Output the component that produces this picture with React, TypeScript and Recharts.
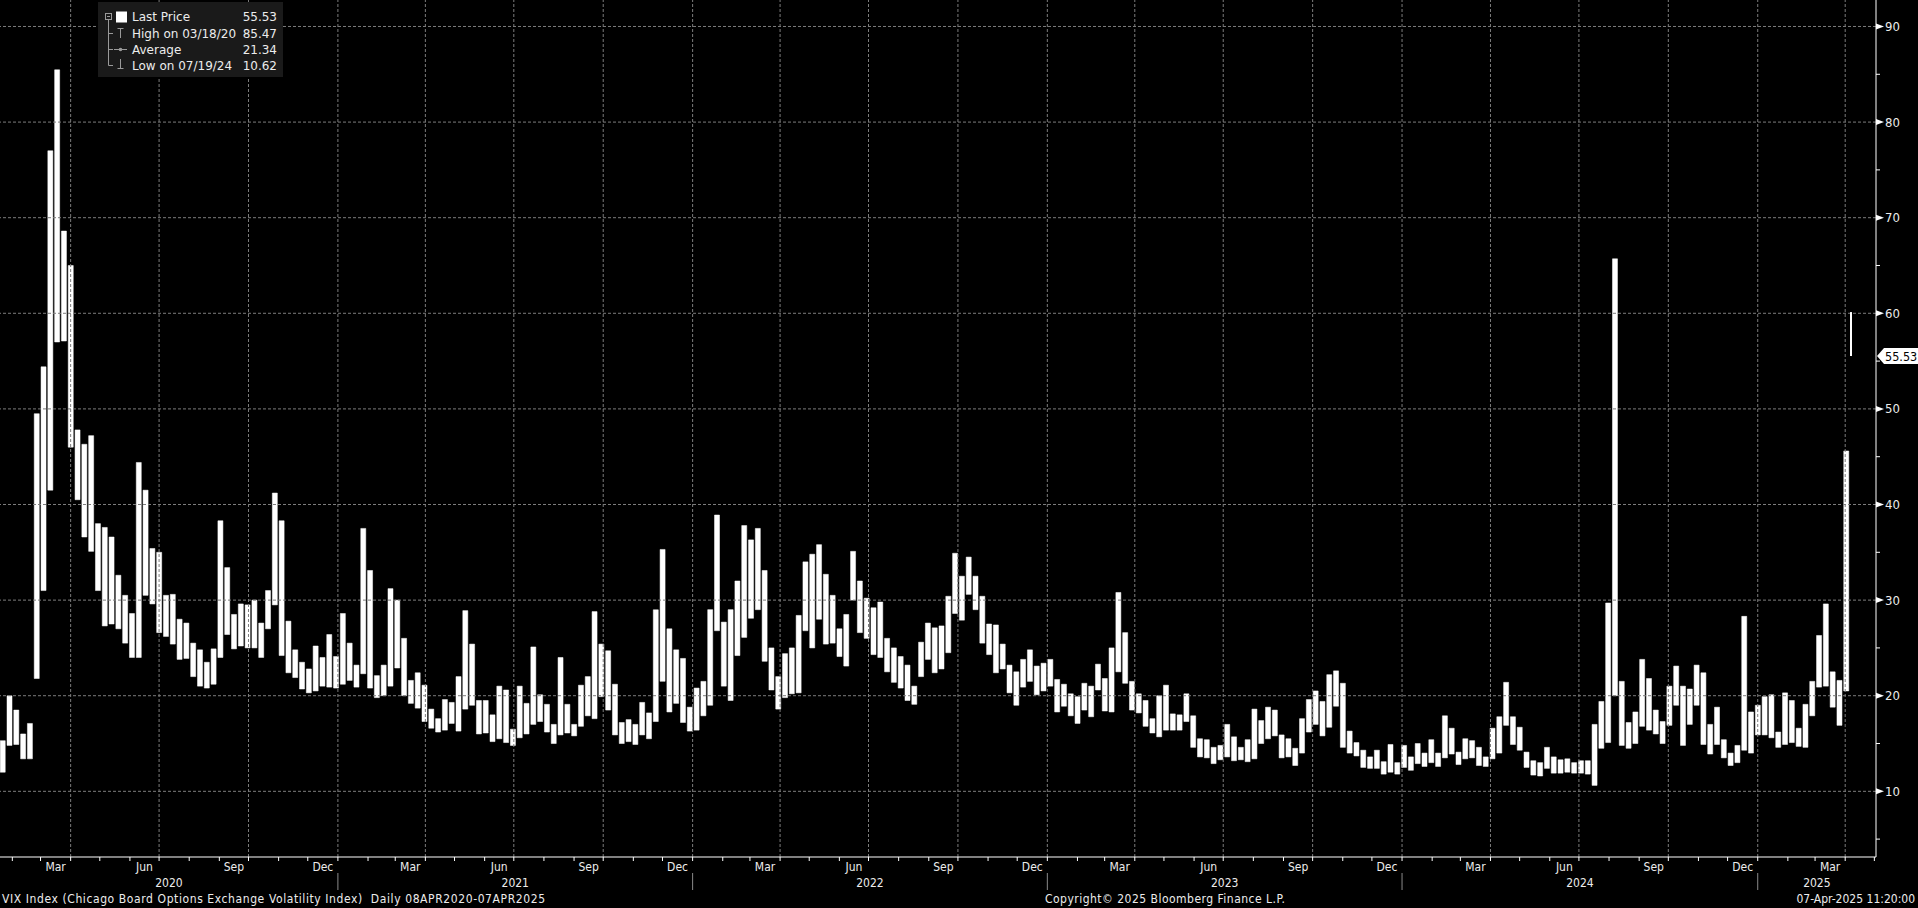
import React from 'react'
import { BarChart, Bar, XAxis, YAxis, ReferenceLine } from 'recharts'

// weekly low / high of the VIX (one pair per week, Monday first)
const FIRST_WEEK = '2020-01-20'

const vix2020: [number, number][] = [
  [12.0, 15.3], [14.8, 19.99], [14.9, 18.5], [13.4, 16.0], [13.4, 17.1], [21.8, 49.5],
  [31.0, 54.4], [41.5, 77.0], [57.0, 85.47], [57.1, 68.6], [46.0, 65.0], [40.5, 47.8],
  [36.6, 46.3], [35.1, 47.2], [31.0, 38.0], [27.3, 37.6], [27.5, 36.6], [27.0, 32.6],
  [25.5, 30.5], [24.0, 28.6], [24.0, 44.4], [30.5, 41.5], [29.6, 35.4], [26.6, 35.0],
  [26.2, 30.5], [25.4, 30.6], [23.8, 28.0], [23.9, 27.6], [22.0, 25.5], [21.0, 24.8],
  [20.8, 23.5], [21.2, 24.9], [24.0, 38.3], [26.4, 33.4], [24.9, 28.5], [25.2, 29.6],
  [25.0, 29.5], [25.0, 30.0], [24.0, 27.6], [27.0, 31.0], [29.5, 41.2], [24.2, 38.3],
  [22.4, 27.8], [21.9, 24.8], [20.7, 23.5], [20.3, 22.8], [20.5, 25.2], [21.0, 24.0],
  [20.9, 26.4], [20.8, 24.1],
]

const vix2021: [number, number][] = [
  [21.2, 28.6], [21.6, 25.5], [20.9, 23.2], [22.3, 37.5], [20.8, 33.1], [19.8, 22.1],
  [20.0, 23.2], [21.0, 31.2], [22.9, 30.0], [20.0, 26.0], [19.2, 21.6], [18.7, 22.4],
  [17.3, 21.1], [16.6, 18.6], [16.2, 17.6], [16.4, 19.6], [17.1, 19.3], [16.3, 22.0],
  [18.6, 28.9], [19.0, 25.4], [16.0, 19.5], [16.1, 19.5], [15.2, 18.0], [15.5, 21.0],
  [15.1, 20.6], [14.8, 16.5], [15.6, 21.0], [16.0, 19.2], [17.0, 25.1], [17.3, 20.1],
  [16.2, 19.1], [15.0, 17.0], [15.9, 24.0], [16.1, 19.1], [15.8, 17.0], [16.8, 21.1],
  [17.9, 22.0], [17.6, 28.8], [19.9, 25.4], [18.5, 24.7], [15.9, 21.2], [15.0, 17.2],
  [15.2, 17.5], [14.9, 17.0], [15.9, 19.3], [15.5, 18.2], [17.3, 28.99], [21.5, 35.3],
  [18.3, 27.0], [19.2, 24.8], [17.2, 23.9], [16.3, 18.8],
]

const vix2022: [number, number][] = [
  [16.4, 20.8], [17.9, 21.5], [19.0, 29.0], [26.8, 38.9], [21.0, 27.7], [19.5, 29.0],
  [24.2, 32.0], [26.1, 37.8], [28.1, 36.3], [29.0, 37.5], [23.6, 33.1], [20.6, 25.0],
  [18.6, 22.0], [19.8, 24.4], [20.2, 25.0], [20.3, 28.4], [26.8, 34.0], [25.0, 34.8],
  [28.0, 35.8], [25.4, 32.7], [25.5, 30.5], [24.1, 27.0], [23.1, 28.5], [30.0, 35.1],
  [26.6, 32.0], [26.0, 30.2], [24.3, 29.2], [24.0, 29.8], [22.5, 26.0], [21.4, 25.0],
  [20.8, 24.1], [19.5, 23.2], [19.1, 21.0], [22.0, 25.6], [23.8, 27.6], [22.4, 27.1],
  [22.8, 27.3], [24.5, 30.4], [28.6, 34.9], [27.9, 32.5], [30.6, 34.5], [29.0, 32.5],
  [25.5, 30.4], [24.3, 27.5], [22.4, 27.4], [22.8, 25.4], [20.3, 23.2], [19.0, 22.5],
  [20.9, 23.8], [21.5, 24.8], [20.1, 23.1], [20.5, 23.4],
]

const vix2023: [number, number][] = [
  [21.0, 23.8], [18.3, 21.7], [18.9, 21.2], [17.9, 20.2], [17.1, 19.9], [18.5, 21.3],
  [17.8, 21.0], [20.6, 23.3], [18.4, 21.8], [18.3, 25.0], [22.5, 30.8], [21.3, 26.6],
  [18.5, 21.5], [18.2, 20.2], [16.8, 19.5], [16.1, 17.6], [15.7, 20.0], [16.4, 21.1],
  [16.4, 18.1], [16.4, 18.0], [17.3, 20.2], [14.6, 17.9], [13.6, 15.5], [13.5, 15.4],
  [12.9, 14.6], [13.3, 14.8], [13.6, 17.0], [13.2, 15.7], [13.3, 14.6], [13.1, 15.4],
  [13.4, 18.6], [15.0, 17.4], [15.5, 18.8], [15.8, 18.5], [13.5, 15.9], [13.6, 15.5],
  [12.7, 14.5], [14.0, 17.6], [16.2, 19.6], [17.0, 20.5], [15.8, 19.4], [16.7, 22.2],
  [18.9, 22.6], [14.6, 21.3], [14.0, 16.3], [13.7, 15.1], [12.5, 14.3], [12.4, 13.6],
  [12.4, 14.3], [11.8, 13.1], [12.0, 14.9], [11.8, 13.0],
]

const vix2024: [number, number][] = [
  [12.5, 14.8], [12.2, 13.6], [12.9, 15.0], [12.6, 14.0], [13.0, 15.4], [12.6, 14.0],
  [13.5, 17.9], [13.9, 16.6], [12.8, 14.1], [13.4, 15.5], [13.5, 15.3], [12.7, 14.6],
  [12.6, 13.6], [13.4, 16.6], [14.0, 17.8], [16.9, 21.4], [14.9, 17.8], [14.3, 16.7],
  [12.5, 14.1], [11.7, 13.2], [11.6, 13.0], [12.4, 14.6], [11.9, 13.6], [11.9, 13.3],
  [12.0, 13.4], [11.9, 13.0], [11.9, 13.2], [11.8, 13.2], [10.62, 17.0], [14.5, 19.4],
  [15.1, 29.7], [20.0, 65.7], [14.8, 21.5], [14.5, 17.2], [15.0, 18.3], [16.8, 23.8],
  [16.4, 21.8], [16.0, 18.5], [15.0, 17.3], [16.9, 21.0], [19.0, 23.1], [14.8, 21.0],
  [17.0, 20.7], [19.0, 23.2], [14.9, 22.4], [13.9, 17.0], [14.9, 18.8], [13.5, 15.4],
  [12.7, 14.0], [13.0, 14.8], [14.3, 28.3], [14.0, 18.3], [15.9, 19.0],
]

const vix2025: [number, number][] = [
  [15.9, 19.9], [15.6, 20.1], [14.6, 16.2], [14.9, 20.3], [15.1, 19.5], [14.7, 16.6],
  [14.6, 19.1], [17.9, 21.5], [20.9, 26.3], [21.0, 29.6], [18.8, 22.5], [16.9, 21.6],
  [20.5, 45.6],
]

// the last (intraday) session is drawn on its own
const LAST_SESSION = '2025-04-07'
const lastSession: [number, number] = [55.53, 60.13]
const LAST_PRICE = 55.53

const legendRows = [
  { label: 'Last Price', value: '55.53' },
  { label: 'High on 03/18/20', value: '85.47' },
  { label: 'Average', value: '21.34' },
  { label: 'Low on 07/19/24', value: '10.62' },
]

const monthNames = ['Jan', 'Feb', 'Mar', 'Apr', 'May', 'Jun', 'Jul', 'Aug', 'Sep', 'Oct', 'Nov', 'Dec']
const labelledMonths = ['Mar', 'Jun', 'Sep', 'Dec']
const gridMonths = ['Jan', 'Apr', 'Jul', 'Oct']
const years = [2020, 2021, 2022, 2023, 2024, 2025]
const yGrid = [10, 20, 30, 40, 50, 60, 70, 80, 90]
const yMinor = [5, 15, 25, 35, 45, 55, 65, 75, 85]

const W = 1918
const H = 908
const X_DOMAIN: [number, number] = [18.3, 1948.7]
const Y_DOMAIN: [number, number] = [3.13, 92.77]
const FONT = '"DejaVu Sans Condensed", "DejaVu Sans", sans-serif'
const LEGEND_FONT = '"DejaVu Sans", sans-serif'
const TEXT = '#ececec'
const GRID = '#7c7c7c'

const DAY0 = Date.UTC(2020, 0, 1)
const dayOf = (y: number, m: number, d: number) => (Date.UTC(y, m, d) - DAY0) / 86400000
const isoDay = (iso: string) => (Date.parse(iso + 'T00:00:00Z') - DAY0) / 86400000

const weeks = [...vix2020, ...vix2021, ...vix2022, ...vix2023, ...vix2024, ...vix2025]
const data = weeks.map((r, i) => ({ day: isoDay(FIRST_WEEK) + 7 * i + 2, range: r }))
const lastDay = isoDay(LAST_SESSION)

// x ticks: month starts, month labels, year labels
type Kind = { kind: 'month' | 'mlabel' | 'ylabel'; text?: string; sep?: boolean }
const tickMap = new Map<number, Kind[]>()
const addTick = (v: number, k: Kind) => {
  if (v < X_DOMAIN[0] || v > X_DOMAIN[1]) return
  const arr = tickMap.get(v) ?? []
  arr.push(k)
  tickMap.set(v, arr)
}
const quarterLines: number[] = []
years.forEach((y) => {
  monthNames.forEach((name, m) => {
    const start = dayOf(y, m, 1)
    const next = dayOf(y, m + 1, 1)
    addTick(start, { kind: 'month', sep: m === 0 })
    if (labelledMonths.includes(name)) addTick((start + next) / 2, { kind: 'mlabel', text: name })
    if (gridMonths.includes(name) && start > X_DOMAIN[0] && start < X_DOMAIN[1]) quarterLines.push(start)
  })
  const s = Math.max(dayOf(y, 0, 1), X_DOMAIN[0])
  const e = Math.min(dayOf(y + 1, 0, 1), X_DOMAIN[1])
  addTick((s + e) / 2, { kind: 'ylabel', text: String(y) })
})
const xTicks = [...tickMap.keys()].sort((a, b) => a - b)
const yTicks = [...yMinor, ...yGrid, LAST_PRICE].sort((a, b) => a - b)

const XTick = (props: any) => {
  const { x, y, payload } = props
  const kinds = tickMap.get(payload.value) ?? []
  return (
    <g>
      {kinds.map((k, i) => {
        if (k.kind === 'month') {
          return (
            <g key={i}>
              <line x1={x} x2={x} y1={y} y2={y + 4} stroke="#ffffff" />
              {k.sep && <line x1={x} x2={x} y1={y + 16} y2={y + 33} stroke="#8a8a8a" />}
            </g>
          )
        }
        return (
          <text
            key={i}
            x={x}
            y={k.kind === 'mlabel' ? y + 13.5 : y + 29.5}
            textAnchor="middle"
            fill={TEXT}
            fontSize={12}
            fontFamily={FONT}
          >
            {k.text}
          </text>
        )
      })}
    </g>
  )
}

const YTick = (props: any) => {
  const { x, y, payload } = props
  const v = payload.value
  if (v === LAST_PRICE) {
    return (
      <g>
        <polygon
          points={`${x + 1},${y} ${x + 8},${y - 8} ${x + 42},${y - 8} ${x + 42},${y + 8} ${x + 8},${y + 8}`}
          fill="#ffffff"
        />
        <text x={x + 9} y={y + 4.5} fill="#000000" fontSize={12.5} fontFamily={FONT}>
          {v.toFixed(2)}
        </text>
      </g>
    )
  }
  if (v % 10 === 0) {
    return (
      <g>
        <polygon points={`${x},${y - 3} ${x + 8},${y} ${x},${y + 3}`} fill="#ffffff" />
        <text x={x + 9} y={y + 4.5} fill={TEXT} fontSize={13} fontFamily={FONT}>
          {v}
        </text>
      </g>
    )
  }
  return <line x1={x} x2={x + 4} y1={y} y2={y} stroke="#ffffff" />
}

const Legend = () => {
  const rowY = [14.7, 31, 47, 63]
  const g = '#9a9a9a'
  return (
    <g transform="translate(98,2)">
      <rect x={0} y={0} width={185} height={75} fill="#1a1a1a" />
      <rect x={7.5} y={11.5} width={6} height={6} fill="none" stroke={g} />
      <line x1={9} x2={12} y1={14.5} y2={14.5} stroke={g} />
      <line x1={10.5} x2={10.5} y1={17.5} y2={63.5} stroke={g} />
      {rowY.slice(1).map((ry) => (
        <line key={ry} x1={10.5} x2={15} y1={ry + 0.5} y2={ry + 0.5} stroke={g} />
      ))}
      <rect x={18} y={9.5} width={11} height={11} fill="#ffffff" />
      <line x1={19.5} x2={25.5} y1={26.5} y2={26.5} stroke={g} />
      <line x1={22.5} x2={22.5} y1={26.5} y2={36} stroke={g} />
      <line x1={16} x2={29} y1={47.5} y2={47.5} stroke={g} />
      <circle cx={22.5} cy={47.5} r={1.8} fill={g} />
      <line x1={22.5} x2={22.5} y1={57} y2={66.5} stroke={g} />
      <line x1={19.5} x2={25.5} y1={66.5} y2={66.5} stroke={g} />
      {legendRows.map((r, i) => (
        <g key={r.label}>
          <text x={34} y={rowY[i] + 4.5} fill={TEXT} fontSize={12} fontFamily={LEGEND_FONT}>
            {r.label}
          </text>
          <text x={179} y={rowY[i] + 4.5} textAnchor="end" fill={TEXT} fontSize={12} fontFamily={LEGEND_FONT}>
            {r.value}
          </text>
        </g>
      ))}
    </g>
  )
}

export default function App() {
  return (
    <div style={{ position: 'fixed', left: 0, top: 0, width: W, height: H, background: '#000000' }}>
      <style>{'body{margin:0;background:#000}'}</style>
      <BarChart width={W} height={H} data={data} margin={{ top: 0, right: 0, bottom: 0, left: 0 }}>
        <XAxis
          type="number"
          dataKey="day"
          domain={X_DOMAIN}
          allowDataOverflow
          ticks={xTicks}
          interval={0}
          height={51}
          axisLine={{ stroke: '#ffffff' }}
          tickLine={false}
          tickSize={0}
          tickMargin={0}
          tick={(p: any) => <XTick {...p} />}
        />
        <YAxis
          orientation="right"
          type="number"
          domain={Y_DOMAIN}
          allowDataOverflow
          ticks={yTicks}
          interval={0}
          width={42}
          axisLine={{ stroke: '#ffffff' }}
          tickLine={false}
          tickSize={0}
          tickMargin={0}
          tick={(p: any) => <YTick {...p} />}
        />
        {yGrid.map((v) => (
          <ReferenceLine key={'h' + v} y={v} stroke={GRID} strokeDasharray="3 2" />
        ))}
        {quarterLines.map((d) => (
          <ReferenceLine key={'v' + d} x={d} stroke={GRID} strokeDasharray="3 2" />
        ))}
        <Bar dataKey="range" fill="#ffffff" stroke="#ffffff" strokeWidth={0.5} barSize={5} isAnimationActive={false} />
        <ReferenceLine
          segment={[
            { x: lastDay, y: lastSession[0] },
            { x: lastDay, y: lastSession[1] },
          ]}
          stroke="#ffffff"
          strokeWidth={2}
        />
      </BarChart>
      <svg width={W} height={H} style={{ position: 'absolute', left: 0, top: 0, pointerEvents: 'none' }}>
        <Legend />
        <text x={2} y={903} fill={TEXT} fontSize={12} fontFamily={FONT} textLength={543} lengthAdjust="spacing" style={{ whiteSpace: 'pre' }}>
          {'VIX Index (Chicago Board Options Exchange Volatility Index)  Daily 08APR2020-07APR2025'}
        </text>
        <text x={1045} y={903} fill={TEXT} fontSize={12} fontFamily={FONT} textLength={240} lengthAdjust="spacing">
          {'Copyright\u00a9 2025 Bloomberg Finance L.P.'}
        </text>
        <text x={1915} y={903} textAnchor="end" fill={TEXT} fontSize={12} fontFamily={FONT}>
          {'07-Apr-2025 11:20:00'}
        </text>
      </svg>
    </div>
  )
}
